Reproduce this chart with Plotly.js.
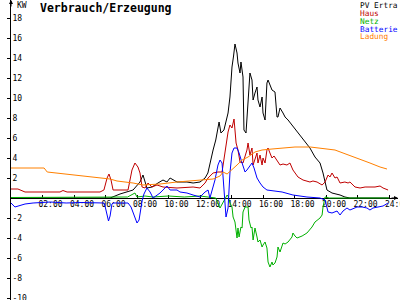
<!DOCTYPE html>
<html><head><meta charset="utf-8">
<script src="https://cdn.plot.ly/plotly-3.0.1.min.js"></script>
<style>html,body{margin:0;padding:0;background:#fff}#chart{width:400px;height:300px}</style>
</head><body><div id="chart"></div>
<script>
// ---- data (hours of day, kW) ----
const seriesNames = ["PV Ertra", "Haus", "Netz", "Batterie", "Ladung"];
const seriesColors = ["#000000", "#c00000", "#00b000", "#0000ff", "#ff8000"];

const pvTime = [0, 6.29, 6.92, 7.37, 7.75, 8.19, 8.38, 8.63, 8.95, 9.33, 9.65, 9.9, 10.1, 10.54, 11.17, 11.56, 12.0, 12.32, 12.5, 12.83, 13.0, 13.21, 13.33, 13.52, 13.78, 13.9, 14.03, 14.13, 14.22, 14.35, 14.41, 14.54, 14.6, 14.73, 14.79, 14.92, 14.98, 15.05, 15.17, 15.3, 15.37, 15.49, 15.62, 15.68, 15.81, 15.94, 16.0, 16.13, 16.25, 16.32, 16.57, 16.76, 16.89, 16.95, 17.08, 17.27, 17.4, 17.59, 17.84, 18.03, 18.54, 18.98, 19.3, 19.62, 19.81, 19.94, 20.06, 20.38, 20.89, 21.2, 21.52, 24];
const pvValues = [0, 0, 0.4, 0.6, 0.8, 1.6, 2.3, 1.0, 1.1, 1.5, 1.8, 1.6, 2.0, 1.6, 1.6, 1.5, 1.6, 2.0, 2.5, 4.8, 5.8, 7.6, 6.5, 6.8, 8.5, 10.1, 13.1, 14.2, 15.4, 14.5, 13.5, 12.5, 13.6, 12.1, 6.8, 6.5, 8.1, 10.1, 12.5, 11.8, 9.8, 10.5, 11.1, 9.8, 9.1, 10.1, 8.5, 7.8, 11.5, 11.8, 10.8, 10.6, 8.1, 8.1, 9.0, 8.5, 8.1, 7.8, 7.3, 6.8, 5.8, 5.0, 4.1, 3.5, 2.5, 1.5, 0.8, 0.5, 0.3, 0.1, 0, 0];

const hausTime = [0, 0.44, 0.89, 3.11, 3.3, 3.56, 5.65, 5.9, 6.1, 6.22, 6.35, 6.48, 7.43, 7.68, 7.87, 8.06, 8.19, 8.32, 8.51, 8.7, 8.95, 9.27, 9.65, 10.54, 11.56, 12.0, 12.32, 12.51, 12.83, 13.14, 13.4, 13.59, 13.78, 13.9, 14.03, 14.16, 14.29, 14.41, 14.54, 14.73, 14.98, 15.05, 15.17, 15.3, 15.37, 15.62, 15.68, 15.81, 15.94, 16.0, 16.13, 16.25, 16.32, 16.44, 16.57, 16.7, 16.89, 17.08, 17.27, 17.52, 17.71, 17.9, 18.22, 18.54, 18.98, 19.17, 19.43, 19.75, 19.94, 20.13, 20.25, 20.38, 20.57, 20.7, 20.89, 21.2, 21.4, 21.52, 21.84, 22.16, 22.48, 22.79, 23.11, 23.43, 23.62, 23.94];
const hausValues = [0.9, 0.9, 0.6, 0.6, 0.75, 0.6, 0.6, 0.8, 2.0, 2.4, 1.8, 0.8, 0.8, 2.8, 3.5, 3.1, 2.5, 1.1, 1.0, 1.5, 1.1, 1.3, 1.1, 1.0, 1.1, 1.0, 1.5, 2.0, 2.5, 2.6, 2.6, 4.5, 6.6, 7.3, 7.0, 7.9, 5.5, 4.8, 3.6, 3.5, 4.8, 5.5, 4.3, 5.0, 3.3, 4.5, 3.5, 4.3, 3.3, 4.0, 3.5, 4.8, 5.0, 4.5, 4.0, 4.2, 3.8, 3.3, 3.4, 3.3, 3.5, 2.8, 2.1, 1.8, 1.6, 1.7, 1.6, 1.3, 1.6, 2.3, 2.1, 2.5, 2.0, 2.1, 1.5, 1.6, 1.5, 1.6, 1.1, 1.0, 1.1, 1.1, 1.1, 1.2, 1.0, 0.8];

const netzTime = [0, 6.3, 7.4, 7.87, 8.0, 8.5, 9.0, 10.0, 11.0, 12.0, 12.5, 13.0, 13.27, 13.46, 13.72, 13.78, 13.9, 14.03, 14.1, 14.22, 14.35, 14.41, 14.48, 14.6, 14.67, 14.73, 14.86, 15.05, 15.11, 15.24, 15.3, 15.37, 15.49, 15.62, 15.68, 15.81, 15.94, 16.0, 16.13, 16.25, 16.32, 16.44, 16.57, 16.63, 16.76, 16.89, 16.95, 17.08, 17.21, 17.27, 17.4, 17.59, 17.84, 17.9, 18.03, 18.16, 18.48, 18.79, 19.11, 19.3, 19.62, 19.75, 19.81, 19.94, 20.2, 24];
const netzValues = [0.05, 0.05, 0.1, 0.5, 0.1, 0.2, 0.1, 0.2, 0.1, 0.2, 0.1, 0.0, -1.0, -0.5, 0.3, 0.2, -0.5, -0.9, -1.9, -2.4, -4.0, -3.0, -3.9, -2.9, -3.0, -1.4, -0.9, -0.9, -2.2, -3.0, -2.9, -4.2, -3.0, -3.9, -4.4, -4.2, -4.9, -4.7, -4.4, -5.0, -6.4, -6.9, -6.4, -6.7, -6.5, -5.9, -4.9, -5.4, -4.9, -4.5, -4.6, -4.4, -3.9, -3.5, -3.8, -4.0, -3.8, -3.5, -2.9, -2.4, -2.0, -1.7, -0.9, 0.1, 0.0, 0.0];

const batterieTime = [0, 0.25, 0.89, 1.4, 2.5, 3.5, 4.5, 5.9, 5.97, 6.1, 6.19, 6.29, 6.41, 6.48, 7.43, 7.62, 7.81, 8.0, 8.13, 8.32, 8.44, 8.63, 8.83, 9.02, 9.46, 9.9, 10.1, 10.54, 10.73, 11.17, 11.56, 12.0, 12.32, 12.51, 12.63, 12.83, 12.95, 13.14, 13.27, 13.4, 13.52, 13.65, 13.78, 13.9, 14.03, 14.16, 14.35, 14.48, 14.67, 14.86, 14.98, 15.17, 15.3, 15.43, 15.62, 15.81, 16.0, 16.25, 16.76, 17.21, 17.9, 18.79, 19.62, 19.94, 20.13, 20.38, 20.7, 20.89, 21.08, 21.33, 21.52, 21.71, 21.97, 22.29, 22.6, 22.79, 22.98, 23.3, 23.62, 23.94];
const batterieValues = [-0.5, -0.9, -0.6, -0.5, -0.4, -0.5, -0.45, -0.5, -0.8, -1.6, -2.3, -1.8, -0.6, -0.5, -0.5, -0.9, -1.8, -2.5, -2.2, -0.3, 0.4, 1.0, 0.6, 0.0, 0.5, 1.2, 0.8, 0.8, 0.6, 0.5, 0.3, 0.1, 0.6, 0.8, 0.0, 1.1, 1.8, 3.3, 3.8, 3.5, 0.5, -1.9, -1.0, 2.5, 4.5, 5.0, 5.0, 4.5, 3.5, 2.6, 2.8, 3.3, 3.5, 3.0, 2.0, 1.5, 1.1, 0.8, 0.7, 0.6, 0.3, 0.1, 0.0, -0.2, -1.4, -1.5, -1.3, -1.7, -1.3, -1.0, -1.2, -1.1, -0.9, -0.9, -1.0, -1.2, -1.0, -0.9, -0.8, -0.5];

const ladungTime = [0, 2.1, 2.3, 3.56, 4.38, 5.65, 6.29, 6.73, 7.75, 8.38, 9.46, 10.54, 11.17, 12.0, 12.83, 13.27, 13.46, 13.72, 14.03, 14.35, 14.67, 15.05, 15.49, 15.94, 16.57, 17.21, 18.03, 19.0, 19.62, 20.25, 20.57, 21.08, 21.97, 22.79, 23.43, 23.87];
const ladungValues = [3.0, 3.0, 2.6, 2.4, 2.2, 2.0, 1.9, 1.7, 1.5, 1.3, 1.4, 1.6, 1.7, 1.8, 1.9, 2.2, 2.6, 2.4, 2.8, 3.3, 3.8, 4.1, 4.6, 4.8, 4.9, 5.0, 5.1, 5.1, 5.0, 4.9, 4.8, 4.5, 4.0, 3.5, 3.1, 2.9];

const xTickVals = [2, 4, 6, 8, 10, 12, 14, 16, 18, 20, 22, 24];
const xTickText = ["02:00", "04:00", "06:00", "08:00", "10:00", "12:00", "14:00", "16:00", "18:00", "20:00", "22:00", "24:00"];
const yTickVals = [-10, -8, -6, -4, -2, 2, 4, 6, 8, 10, 12, 14, 16, 18];
const yTickText = ["-10", "-8", "-6", "-4", "-2", "2", "4", "6", "8", "10", "12", "14", "16", "18"];

const titleText = "Verbrauch/Erzeugung";
const unitText = "KW";

// ---- build ----
const xs = [pvTime, hausTime, netzTime, batterieTime, ladungTime];
const ys = [pvValues, hausValues, netzValues, batterieValues, ladungValues];
const traces = seriesNames.map((n, i) => ({
  type: "scatter", mode: "lines", name: n, x: xs[i], y: ys[i],
  line: {color: seriesColors[i], width: 1}, showlegend: false, hoverinfo: "skip"
}));

const mono = "DejaVu Sans Mono";
const Y0 = -10.2, Y1 = 19.8;
const annotations = seriesNames.map((n, i) => ({
  xref: "paper", yref: "paper", x: (358 - 11) / 387, y: 1 - (5 + 8 * i) / 300,
  xanchor: "left", yanchor: "middle", showarrow: false,
  text: n, font: {family: mono, size: 7.8, color: seriesColors[i]}
}));
annotations.push({xref: "paper", yref: "paper", x: 4 / 387, y: 1 - 5 / 300,
  xanchor: "left", yanchor: "middle", showarrow: false, text: unitText,
  font: {family: mono, size: 8, color: "#000"}});
// axis arrows
annotations.push({xref: "x", yref: "y", x: 0, y: Y1, ax: 0, ay: 8, showarrow: true,
  arrowhead: 2, arrowsize: 0.8, arrowwidth: 1, arrowcolor: "#000", text: ""});
annotations.push({xref: "x", yref: "y", x: 24.57, y: 0, ax: -8, ay: 0, showarrow: true,
  arrowhead: 2, arrowsize: 0.8, arrowwidth: 1, arrowcolor: "#000", text: ""});

const layout = {
  width: 400, height: 300,
  margin: {l: 11, r: 2, t: 0, b: 0},
  paper_bgcolor: "#fff", plot_bgcolor: "#fff",
  title: {text: "<b>" + titleText + "</b>", xref: "container", yref: "container",
    x: 40 / 400, xanchor: "left", y: 1 - 8 / 300, yanchor: "middle",
    font: {family: mono, size: 11.5, color: "#000"}},
  xaxis: {range: [0, 24.57], anchor: "free", position: (0 - Y0) / (Y1 - Y0),
    showgrid: false, zeroline: false, showline: true, linecolor: "#000", linewidth: 1,
    tickvals: xTickVals, ticktext: xTickText, ticks: "inside", ticklen: 3, tickcolor: "#000",
    tickfont: {family: mono, size: 8, color: "#000"}, ticklabelshift: 8, ticklabelstandoff: -2,
    ticklabeloverflow: "allow", layer: "below traces", fixedrange: true},
  yaxis: {range: [Y0, Y1], showgrid: false, zeroline: false, showline: true,
    linecolor: "#000", linewidth: 1, tickvals: yTickVals, ticktext: yTickText,
    ticks: "outside", ticklen: 3, tickcolor: "#000", ticklabelposition: "inside",
    ticklabeloverflow: "allow",
    tickfont: {family: mono, size: 8, color: "#000"}, layer: "below traces", fixedrange: true},
  annotations: annotations,
  showlegend: false
};
Plotly.newPlot("chart", traces, layout, {staticPlot: true, displayModeBar: false});
</script></body></html>
